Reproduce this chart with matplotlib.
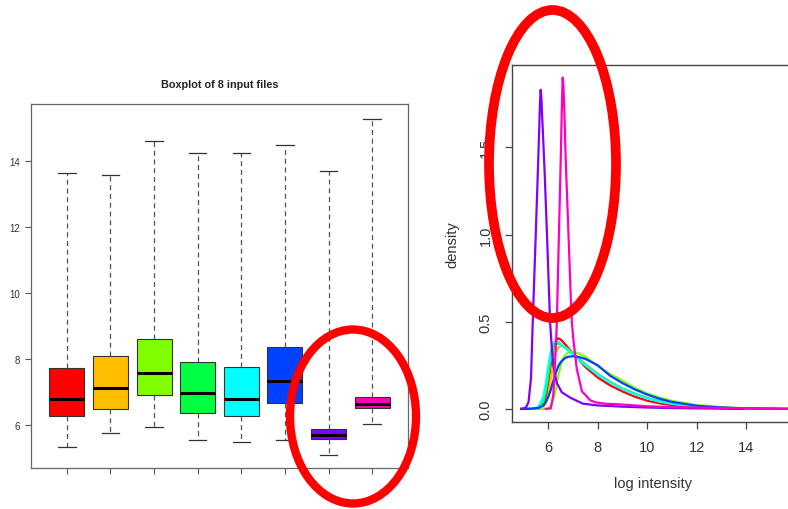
import matplotlib.pyplot as plt
from matplotlib.patches import Ellipse

plt.rcParams["font.family"] = ["Liberation Sans", "DejaVu Sans"]

# Boxplot summary values
box_colors = ["#FF0000", "#FFBF00", "#80FF00", "#00FF40",
              "#00FFFF", "#0040FF", "#8000FF", "#FF00BF"]
whis_lo = [5.35, 5.76, 5.93, 5.56, 5.49, 5.56, 5.09, 6.03]
q1 = [6.28, 6.50, 6.91, 6.36, 6.28, 6.67, 5.58, 6.51]
med = [6.80, 7.13, 7.59, 6.97, 6.80, 7.33, 5.71, 6.64]
q3 = [7.73, 8.11, 8.61, 7.93, 7.75, 8.37, 5.88, 6.84]
whis_hi = [13.65, 13.60, 14.61, 14.24, 14.24, 14.51, 13.71, 15.30]

# Density curves
grid_x = [4.9, 5.3, 5.6, 5.8, 5.9, 6.0, 6.1, 6.2, 6.3, 6.4, 6.5, 6.6, 6.7, 6.8,
          7.0, 7.25, 7.5, 8.0, 8.5, 9.0, 9.5, 10.0, 10.5, 11.0, 12.0, 13.0,
          14.0, 15.0, 15.7]
dens_red = [0, 0, 0.003, 0.02, 0.06, 0.14, 0.25, 0.34, 0.39, 0.405, 0.398, 0.383,
            0.367, 0.35, 0.32, 0.28, 0.24, 0.18, 0.135, 0.1, 0.07, 0.047, 0.032,
            0.022, 0.01, 0.004, 0.002, 0.001, 0]
dens_orange = [0, 0, 0.002, 0.01, 0.03, 0.08, 0.17, 0.26, 0.325, 0.352, 0.36, 0.358,
               0.352, 0.343, 0.32, 0.288, 0.255, 0.2, 0.155, 0.115, 0.085, 0.06,
               0.042, 0.03, 0.014, 0.006, 0.002, 0.001, 0]
dens_chart = [0, 0, 0, 0, 0.001, 0.005, 0.02, 0.05, 0.11, 0.19, 0.25, 0.29, 0.312,
              0.323, 0.327, 0.317, 0.3, 0.245, 0.2, 0.162, 0.12, 0.088, 0.065,
              0.046, 0.022, 0.01, 0.004, 0.001, 0]
dens_green = [0, 0, 0.005, 0.04, 0.1, 0.19, 0.28, 0.34, 0.37, 0.375, 0.368, 0.36,
              0.35, 0.34, 0.315, 0.285, 0.255, 0.2, 0.155, 0.118, 0.088, 0.063,
              0.045, 0.032, 0.015, 0.006, 0.002, 0.0005, 0]
dens_cyan = [0, 0, 0.01, 0.07, 0.15, 0.25, 0.33, 0.378, 0.39, 0.385, 0.373, 0.36,
             0.347, 0.335, 0.31, 0.28, 0.25, 0.196, 0.152, 0.115, 0.085, 0.06,
             0.043, 0.03, 0.014, 0.006, 0.002, 0.0005, 0]
dens_blue = [0, 0.001, 0.006, 0.02, 0.04, 0.07, 0.11, 0.16, 0.205, 0.245, 0.268,
             0.283, 0.293, 0.299, 0.302, 0.297, 0.287, 0.25, 0.19, 0.148, 0.112,
             0.082, 0.058, 0.04, 0.018, 0.008, 0.003, 0.001, 0]

purple_x = [4.9, 5.0, 5.1, 5.2, 5.3, 5.36, 5.45, 5.55, 5.63, 5.66, 5.69, 5.72, 5.75,
            5.85, 5.95, 6.07, 6.14, 6.2, 6.34, 6.54, 6.88, 7.4, 8.0, 9.0, 10.0,
            11.0, 12.0, 13.0, 13.9]
purple_y = [0, 0.002, 0.01, 0.04, 0.18, 0.46, 0.83, 1.25, 1.6, 1.75, 1.83, 1.78, 1.68,
            1.36, 0.98, 0.5, 0.35, 0.25, 0.15, 0.096, 0.065, 0.03, 0.02, 0.013, 0.008,
            0.005, 0.003, 0.002, 0]
magenta_x = [5.9, 6.1, 6.2, 6.3, 6.34, 6.42, 6.5, 6.55, 6.58, 6.61, 6.65, 6.7, 6.8,
             6.9, 6.95, 7.01, 7.15, 7.36, 7.5, 7.69, 7.9, 8.3, 9.0, 10.0, 11.0, 12.0,
             13.0, 14.0, 15.0, 15.7]
magenta_y = [0, 0.003, 0.08, 0.35, 0.48, 0.95, 1.42, 1.75, 1.9, 1.85, 1.7, 1.44, 1.06,
             0.67, 0.5, 0.4, 0.23, 0.1, 0.08, 0.05, 0.038, 0.03, 0.025, 0.015, 0.01,
             0.008, 0.006, 0.004, 0.002, 0]

fig = plt.figure(figsize=(7.88, 5.1), dpi=100)

# ---- left: boxplot ----
ax1 = fig.add_axes([31 / 788, 41 / 510, 377 / 788, 364 / 510])
stats = []
for i in range(len(med)):
    stats.append({"med": med[i], "q1": q1[i], "q3": q3[i],
                  "whislo": whis_lo[i], "whishi": whis_hi[i], "fliers": []})
bp = ax1.bxp(stats, positions=range(1, 9), widths=0.8, capwidths=0.4,
             patch_artist=True, showfliers=False,
             boxprops=dict(edgecolor="#333333", linewidth=0.8),
             medianprops=dict(color="black", linewidth=2.2),
             whiskerprops=dict(color="#555555", linestyle=(0, (4, 3)), linewidth=0.9),
             capprops=dict(color="#333333", linewidth=0.9))
for patch, c in zip(bp["boxes"], box_colors):
    patch.set_facecolor(c)
ax1.set_xlim(0.18, 8.82)
ax1.set_ylim(4.70, 15.74)
ax1.set_yticks([6, 8, 10, 12, 14])
ax1.set_xticks(range(1, 9))
ax1.set_xticklabels([])
ax1.tick_params(axis="both", length=4.3, width=0.8, color="#555555",
                labelsize=7, labelcolor="#333333", pad=3.5)
for s in ax1.spines.values():
    s.set_color("#666666")
    s.set_linewidth(0.9)
ax1.set_title("Boxplot of 8 input files", fontsize=7.8, fontweight="bold", pad=12.5,
              color="#222222")

# ---- right: density plot ----
ax2 = fig.add_axes([512 / 788, 87 / 510, 286 / 788, 357.3 / 510])
curves = [(dens_red, "#FF0000"), (dens_orange, "#FFBF00"), (dens_chart, "#80FF00"),
          (dens_green, "#00FF40"), (dens_cyan, "#00FFFF"), (dens_blue, "#0040FF")]
for yv, c in curves:
    ax2.plot(grid_x, yv, color=c, linewidth=1.6)
ax2.plot(purple_x, purple_y, color="#8000FF", linewidth=1.6)
ax2.plot(magenta_x, magenta_y, color="#FF00BF", linewidth=1.6)
ax2.set_xlim(4.53, 16.1)
ax2.set_ylim(-0.075, 1.974)
ax2.set_xticks([6, 8, 10, 12, 14])
ax2.set_yticks([0.0, 0.5, 1.0, 1.5])
ax2.set_yticklabels(["0.0", "0.5", "1.0", "1.5"])
ax2.tick_params(axis="both", length=5, width=0.9, color="#444444",
                labelsize=10.5, labelcolor="#333333")
ax2.tick_params(axis="x", pad=8)
ax2.tick_params(axis="y", pad=9, labelrotation=90)
for lab in ax2.get_yticklabels():
    lab.set_va("center")
for s in ax2.spines.values():
    s.set_color("#444444")
    s.set_linewidth(1.0)
fig.text(452.7 / 788, 1 - 245 / 510, "density", rotation=90, ha="center",
         va="center", fontsize=10.5, color="#333333")
fig.text(652.7 / 788, 1 - 484 / 510, "log intensity", ha="center", va="center",
         fontsize=10.5, color="#333333")

# ---- red annotation ellipses ----
fig.add_artist(Ellipse((353 / 788, 1 - 417.5 / 510), 126 / 788, 174 / 510,
                       transform=fig.transFigure, fill=False,
                       edgecolor="#FF0000", linewidth=6))
fig.add_artist(Ellipse((552.5 / 788, 1 - 165 / 510), 127 / 788, 308 / 510,
                       transform=fig.transFigure, fill=False,
                       edgecolor="#FF0000", linewidth=7))

plt.savefig("out.png", dpi=100)
